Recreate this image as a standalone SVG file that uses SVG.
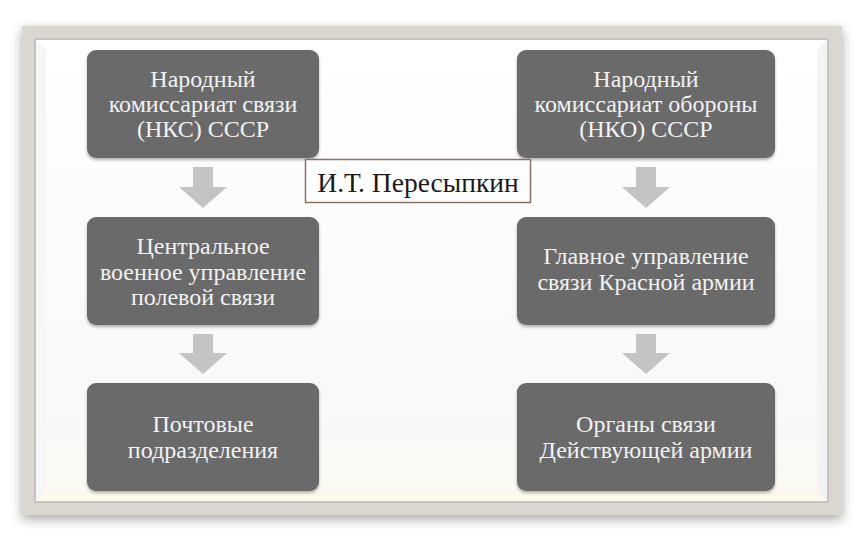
<svg xmlns="http://www.w3.org/2000/svg" width="864" height="541" viewBox="0 0 864 541">
<defs>
<filter id="fshadow" x="-10%" y="-10%" width="120%" height="120%">
<feGaussianBlur in="SourceAlpha" stdDeviation="6"/>
<feOffset dx="0" dy="4" result="b"/>
<feComponentTransfer><feFuncA type="linear" slope="0.35"/></feComponentTransfer>
<feMerge><feMergeNode/><feMergeNode in="SourceGraphic"/></feMerge>
</filter>
<filter id="nshadow" x="-10%" y="-10%" width="120%" height="130%">
<feGaussianBlur in="SourceAlpha" stdDeviation="1.5"/>
<feOffset dx="0" dy="1.5"/>
<feComponentTransfer><feFuncA type="linear" slope="0.3"/></feComponentTransfer>
<feMerge><feMergeNode/><feMergeNode in="SourceGraphic"/></feMerge>
</filter>
<linearGradient id="paper" x1="0" y1="0" x2="0" y2="1">
<stop offset="0" stop-color="#ffffff"/>
<stop offset="0.85" stop-color="#f8f8f8"/>
<stop offset="1" stop-color="#fcfaf0"/>
</linearGradient>
</defs>
<style>
.node rect{fill:#6b6b6b;filter:url(#nshadow)}
.node text{font-size:24px;fill:#f2f2f2;text-anchor:middle}
.arrow{fill:#c4c4c4}
.lbl text{font-size:27.5px;fill:#1a1a1a;text-anchor:middle}
</style>
<rect width="864" height="541" fill="#ffffff"/>
<g id="frame">
<rect x="22" y="26" width="820" height="489" fill="#d9d7cf" filter="url(#fshadow)"/>
<rect x="34" y="38" width="795" height="465" fill="#c4c4c4"/>
<rect x="36" y="40" width="791" height="461" fill="url(#paper)"/>
<path d="M36 40 L46 50 L46 491 L36 501 Z" fill="#f7f7f7"/>
<path d="M827 40 L817 50 L817 491 L827 501 Z" fill="#f3f3f3"/>
<path d="M36 501 L46 491 L817 491 L827 501 Z" fill="#fcf9ea"/>
</g>
<g id="connectors">
<polygon class="arrow" points="193,167 213,167 213,187 227,187 203,208 179,187 193,187"/>
<polygon class="arrow" points="193,334 213,334 213,353 227,353 203,374 179,353 193,353"/>
<polygon class="arrow" points="636,167 656,167 656,187 670,187 646,208 622,187 636,187"/>
<polygon class="arrow" points="636,334 656,334 656,353 670,353 646,374 622,353 636,353"/>
</g>
<g id="n1" class="node" font-family="'Liberation Serif', 'DejaVu Serif', serif">
<rect x="87" y="50" width="232" height="108" rx="9"/>
<text x="203" y="87">Народный</text>
<text x="203" y="112">комиссариат связи</text>
<text x="203" y="137">(НКС) СССР</text>
</g>
<g id="n2" class="node" font-family="'Liberation Serif', 'DejaVu Serif', serif">
<rect x="87" y="217" width="232" height="108" rx="9"/>
<text x="203" y="254">Центральное</text>
<text x="203" y="280">военное управление</text>
<text x="203" y="305">полевой связи</text>
</g>
<g id="n3" class="node" font-family="'Liberation Serif', 'DejaVu Serif', serif">
<rect x="87" y="383" width="232" height="108" rx="9"/>
<text x="203" y="432">Почтовые</text>
<text x="203" y="458">подразделения</text>
</g>
<g id="n4" class="node" font-family="'Liberation Serif', 'DejaVu Serif', serif">
<rect x="517" y="50" width="258" height="108" rx="9"/>
<text x="646" y="87">Народный</text>
<text x="646" y="112">комиссариат обороны</text>
<text x="646" y="137">(НКО) СССР</text>
</g>
<g id="n5" class="node" font-family="'Liberation Serif', 'DejaVu Serif', serif">
<rect x="517" y="217" width="258" height="108" rx="9"/>
<text x="646" y="264">Главное управление</text>
<text x="646" y="290">связи Красной армии</text>
</g>
<g id="n6" class="node" font-family="'Liberation Serif', 'DejaVu Serif', serif">
<rect x="517" y="383" width="258" height="108" rx="9"/>
<text x="646" y="432">Органы связи</text>
<text x="646" y="458">Действующей армии</text>
</g>
<g id="lbl" class="lbl" font-family="'Liberation Serif', 'DejaVu Serif', serif">
<rect x="305.5" y="159.5" width="225" height="43" fill="#ffffff" stroke="#8a6f66" stroke-width="1.5"/>
<text x="418" y="192">И.Т. Пересыпкин</text>
</g>
</svg>
